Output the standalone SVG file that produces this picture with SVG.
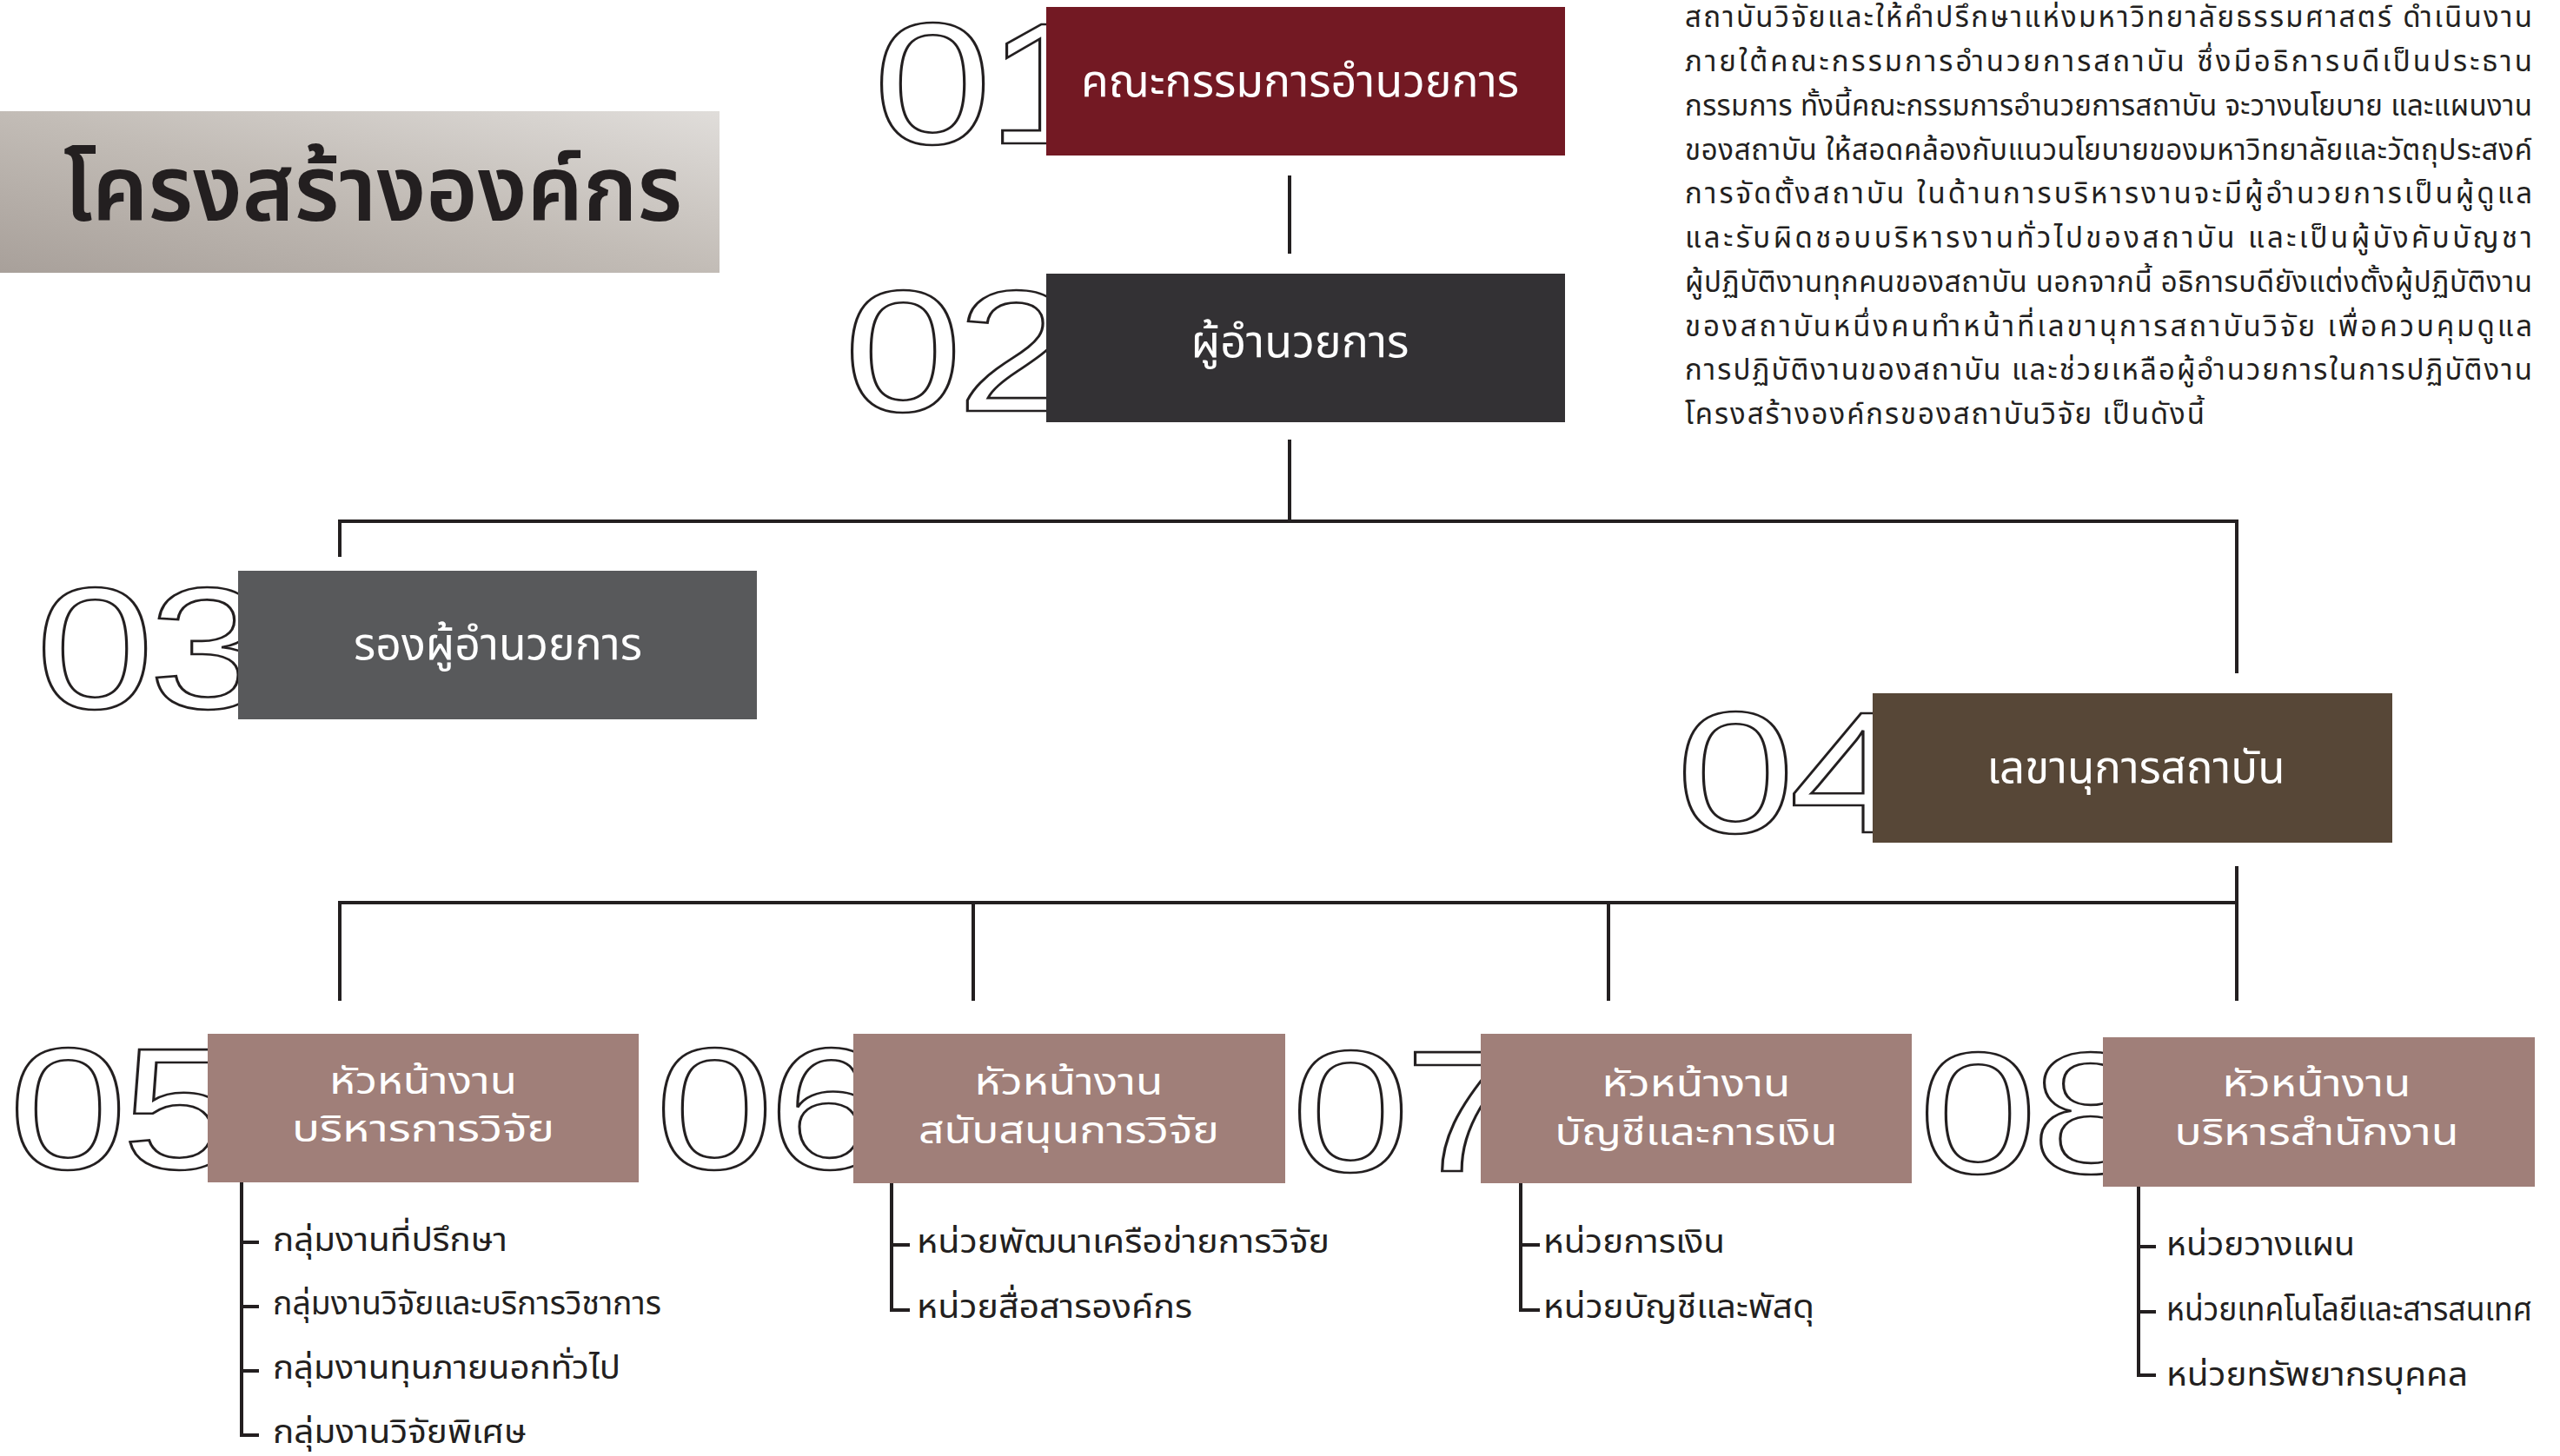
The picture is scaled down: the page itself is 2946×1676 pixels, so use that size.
<svg xmlns="http://www.w3.org/2000/svg" width="2946" height="1676" viewBox="0 0 2946 1676">
<defs>
<linearGradient id="titleGrad" x1="0" y1="1" x2="1" y2="0">
<stop offset="0" stop-color="#a8a09a"/>
<stop offset="0.5" stop-color="#c2bcb6"/>
<stop offset="1" stop-color="#e0ddda"/>
</linearGradient>
<style>
.num{font-family:"Liberation Sans",Arial,sans-serif;font-size:199px;fill:#ffffff;stroke:#231f20;stroke-width:2.6px;letter-spacing:-5px}
.th{font-family:"Noto Sans","Noto Sans Thai",sans-serif}
.lbl{fill:#ffffff;text-anchor:middle;font-size:52px}
.lbl2{fill:#ffffff;text-anchor:middle;font-size:43px}
.item{fill:#231f20;font-size:38px}
.para{fill:#231f20;font-size:33px}
.conn{stroke:#231f20;stroke-width:4;fill:none}
.br{stroke:#231f20;stroke-width:4;fill:none}
</style>
</defs>

<g id="title">
<rect x="0" y="128" width="828" height="186" fill="url(#titleGrad)"/>
<text class="th" x="73" y="254" font-size="106" font-weight="600" fill="#231f20" textLength="712" lengthAdjust="spacingAndGlyphs">โครงสร้างองค์กร</text>
</g>

<g id="intro" class="th para">
<text x="1939" y="31" textLength="975" lengthAdjust="spacing">สถาบันวิจัยและให้คำปรึกษาแห่งมหาวิทยาลัยธรรมศาสตร์  ดำเนินงาน</text>
<text x="1939" y="82" textLength="975" lengthAdjust="spacing">ภายใต้คณะกรรมการอำนวยการสถาบัน  ซึ่งมีอธิการบดีเป็นประธาน</text>
<text x="1939" y="133" textLength="975" lengthAdjust="spacing">กรรมการ ทั้งนี้คณะกรรมการอำนวยการสถาบัน จะวางนโยบาย และแผนงาน</text>
<text x="1939" y="184" textLength="975" lengthAdjust="spacing">ของสถาบัน ให้สอดคล้องกับแนวนโยบายของมหาวิทยาลัยและวัตถุประสงค์</text>
<text x="1939" y="234" textLength="975" lengthAdjust="spacing">การจัดตั้งสถาบัน  ในด้านการบริหารงานจะมีผู้อำนวยการเป็นผู้ดูแล</text>
<text x="1939" y="285" textLength="975" lengthAdjust="spacing">และรับผิดชอบบริหารงานทั่วไปของสถาบัน  และเป็นผู้บังคับบัญชา</text>
<text x="1939" y="336" textLength="975" lengthAdjust="spacing">ผู้ปฏิบัติงานทุกคนของสถาบัน นอกจากนี้ อธิการบดียังแต่งตั้งผู้ปฏิบัติงาน</text>
<text x="1939" y="387" textLength="975" lengthAdjust="spacing">ของสถาบันหนึ่งคนทำหน้าที่เลขานุการสถาบันวิจัย  เพื่อควบคุมดูแล</text>
<text x="1939" y="437" textLength="975" lengthAdjust="spacing">การปฏิบัติงานของสถาบัน  และช่วยเหลือผู้อำนวยการในการปฏิบัติงาน</text>
<text x="1939" y="488" textLength="598" lengthAdjust="spacing">โครงสร้างองค์กรของสถาบันวิจัย  เป็นดังนี้</text>
</g>

<g id="connectors">
<line class="conn" x1="1484" y1="202" x2="1484" y2="292"/>
<line class="conn" x1="1484" y1="506" x2="1484" y2="600"/>
<polyline class="conn" points="391,641 391,600 2574,600 2574,775"/>
<line class="conn" x1="2574" y1="997" x2="2574" y2="1152"/>
<polyline class="conn" points="391,1152 391,1039 2574,1039"/>
<line class="conn" x1="1120" y1="1039" x2="1120" y2="1152"/>
<line class="conn" x1="1851" y1="1039" x2="1851" y2="1152"/>
</g>

<g id="node01">
<text class="num" transform="translate(1005,165) scale(1.23,1)">01</text>
<rect x="1204" y="8" width="597" height="171" fill="#731923"/>
<text class="th lbl" x="1496" y="111" textLength="504" lengthAdjust="spacingAndGlyphs">คณะกรรมการอำนวยการ</text>
</g>

<g id="node02">
<text class="num" transform="translate(971,473) scale(1.23,1)">02</text>
<rect x="1204" y="315" width="597" height="171" fill="#333134"/>
<text class="th lbl" x="1496" y="411" textLength="251" lengthAdjust="spacingAndGlyphs">ผู้อำนวยการ</text>
</g>

<g id="node03">
<text class="num" transform="translate(41,815) scale(1.23,1)">03</text>
<rect x="274" y="657" width="597" height="171" fill="#58595b"/>
<text class="th lbl" x="573" y="759" textLength="332" lengthAdjust="spacingAndGlyphs">รองผู้อำนวยการ</text>
</g>

<g id="node04">
<text class="num" transform="translate(1929,958) scale(1.23,1)">04</text>
<rect x="2155" y="798" width="598" height="172" fill="#574737"/>
<text class="th lbl" x="2458" y="901" textLength="343" lengthAdjust="spacingAndGlyphs">เลขานุการสถาบัน</text>
</g>

<g id="node05">
<text class="num" transform="translate(10,1345) scale(1.23,1)">05</text>
<rect x="239" y="1190" width="496" height="171" fill="#a07f79"/>
<text class="th lbl2" x="487" y="1259" textLength="216" lengthAdjust="spacingAndGlyphs">หัวหน้างาน</text>
<text class="th lbl2" x="487" y="1314" textLength="302" lengthAdjust="spacingAndGlyphs">บริหารการวิจัย</text>
<polyline class="br" points="278,1361 278,1652 298,1652"/>
<line class="br" x1="278" y1="1430" x2="298" y2="1430"/>
<line class="br" x1="278" y1="1504" x2="298" y2="1504"/>
<line class="br" x1="278" y1="1578" x2="298" y2="1578"/>
<text class="th item" x="314" y="1440" textLength="270" lengthAdjust="spacingAndGlyphs">กลุ่มงานที่ปรึกษา</text>
<text class="th item" x="314" y="1513" textLength="447" lengthAdjust="spacingAndGlyphs">กลุ่มงานวิจัยและบริการวิชาการ</text>
<text class="th item" x="314" y="1587" textLength="400" lengthAdjust="spacingAndGlyphs">กลุ่มงานทุนภายนอกทั่วไป</text>
<text class="th item" x="314" y="1661" textLength="292" lengthAdjust="spacingAndGlyphs">กลุ่มงานวิจัยพิเศษ</text>
</g>

<g id="node06">
<text class="num" transform="translate(754,1345) scale(1.23,1)">06</text>
<rect x="982" y="1190" width="497" height="172" fill="#a07f79"/>
<text class="th lbl2" x="1230" y="1260" textLength="217" lengthAdjust="spacingAndGlyphs">หัวหน้างาน</text>
<text class="th lbl2" x="1230" y="1316" textLength="346" lengthAdjust="spacingAndGlyphs">สนับสนุนการวิจัย</text>
<polyline class="br" points="1026,1362 1026,1508 1047,1508"/>
<line class="br" x1="1026" y1="1433" x2="1047" y2="1433"/>
<text class="th item" x="1055" y="1442" textLength="475" lengthAdjust="spacingAndGlyphs">หน่วยพัฒนาเครือข่ายการวิจัย</text>
<text class="th item" x="1055" y="1517" textLength="317" lengthAdjust="spacingAndGlyphs">หน่วยสื่อสารองค์กร</text>
</g>

<g id="node07">
<text class="num" transform="translate(1486,1348) scale(1.23,1)">07</text>
<rect x="1704" y="1190" width="496" height="172" fill="#a07f79"/>
<text class="th lbl2" x="1952" y="1262" textLength="217" lengthAdjust="spacingAndGlyphs">หัวหน้างาน</text>
<text class="th lbl2" x="1952" y="1318" textLength="325" lengthAdjust="spacingAndGlyphs">บัญชีและการเงิน</text>
<polyline class="br" points="1750,1362 1750,1508 1772,1508"/>
<line class="br" x1="1750" y1="1433" x2="1772" y2="1433"/>
<text class="th item" x="1776" y="1442" textLength="209" lengthAdjust="spacingAndGlyphs">หน่วยการเงิน</text>
<text class="th item" x="1776" y="1517" textLength="312" lengthAdjust="spacingAndGlyphs">หน่วยบัญชีและพัสดุ</text>
</g>

<g id="node08">
<text class="num" transform="translate(2208,1350) scale(1.23,1)">08</text>
<rect x="2420" y="1194" width="497" height="172" fill="#a07f79"/>
<text class="th lbl2" x="2666" y="1262" textLength="217" lengthAdjust="spacingAndGlyphs">หัวหน้างาน</text>
<text class="th lbl2" x="2666" y="1318" textLength="327" lengthAdjust="spacingAndGlyphs">บริหารสำนักงาน</text>
<polyline class="br" points="2461,1366 2461,1583 2481,1583"/>
<line class="br" x1="2461" y1="1435" x2="2481" y2="1435"/>
<line class="br" x1="2461" y1="1510" x2="2481" y2="1510"/>
<text class="th item" x="2493" y="1445" textLength="217" lengthAdjust="spacingAndGlyphs">หน่วยวางแผน</text>
<text class="th item" x="2493" y="1520" textLength="421" lengthAdjust="spacingAndGlyphs">หน่วยเทคโนโลยีและสารสนเทศ</text>
<text class="th item" x="2493" y="1595" textLength="347" lengthAdjust="spacingAndGlyphs">หน่วยทรัพยากรบุคคล</text>
</g>
</svg>
